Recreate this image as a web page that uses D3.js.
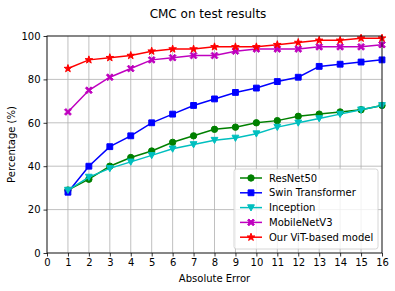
<!DOCTYPE html>
<html lang="en">
<head>
    <meta charset="UTF-8">
    <title>CMC on test results</title>
    <script src="https://d3js.org/d3.v7.min.js"></script>
    <style>
        body { margin: 0; background: #fff; }
        text { font-family: "DejaVu Sans", sans-serif; fill: #000; }
    </style>
</head>
<body>
    <div id="chart"></div>

    <script>
        // CMC values
        const errors = [1, 2, 3, 4, 5, 6, 7, 8, 9, 10, 11, 12, 13, 14, 15, 16];
        const resnet = [29, 34, 40, 44, 47, 51, 54, 57, 58, 60, 61, 63, 64, 65, 66, 68];
        const swin = [28, 40, 49, 54, 60, 64, 68, 71, 74, 76, 79, 81, 86, 87, 88, 89];
        const inception = [29, 35, 39, 42, 45, 48, 50, 52, 53, 55, 58, 60, 62, 64, 66, 68];
        const mobilenet = [65, 75, 81, 85, 89, 90, 91, 91, 93, 94, 94, 94, 95, 95, 95, 96];
        const vit = [85, 89, 90, 91, 93, 94, 94, 95, 95, 95, 96, 97, 98, 98, 99, 99];
        const xTicks = d3.range(0, 17);
        const yTicks = [0, 20, 40, 60, 80, 100];

        const series = [
            { name: 'ResNet50', values: resnet, color: '#008000', marker: 'circle' },
            { name: 'Swin Transformer', values: swin, color: '#0000ff', marker: 'square' },
            { name: 'Inception', values: inception, color: '#00bfbf', marker: 'tri' },
            { name: 'MobileNetV3', values: mobilenet, color: '#bf00bf', marker: 'x' },
            { name: 'Our ViT-based model', values: vit, color: '#ff0000', marker: 'star' }
        ];

        const svgWidth = 395, svgHeight = 291;
        const margin = { top: 36, right: 13, bottom: 38, left: 47 };
        const width = svgWidth - margin.left - margin.right;
        const height = svgHeight - margin.top - margin.bottom;

        const root = d3.select('#chart').append('svg')
            .attr('width', svgWidth)
            .attr('height', svgHeight);

        const svg = root.append('g')
            .attr('transform', `translate(${margin.left},${margin.top})`);

        const x = d3.scaleLinear().domain([0, 16]).range([0, width]);
        const y = d3.scaleLinear().domain([0, 100]).range([height, 0]);

        // grid
        svg.append('g').selectAll('line.gx').data(xTicks).enter().append('line')
            .attr('x1', d => x(d)).attr('x2', d => x(d))
            .attr('y1', 0).attr('y2', height)
            .attr('stroke', '#b0b0b0').attr('stroke-width', 0.8);
        svg.append('g').selectAll('line.gy').data(yTicks).enter().append('line')
            .attr('x1', 0).attr('x2', width)
            .attr('y1', d => y(d)).attr('y2', d => y(d))
            .attr('stroke', '#b0b0b0').attr('stroke-width', 0.8);

        // axes
        const xAxis = svg.append('g')
            .attr('transform', `translate(0,${height})`)
            .call(d3.axisBottom(x).tickValues(xTicks).tickSize(3.5).tickPadding(2));
        const yAxis = svg.append('g')
            .call(d3.axisLeft(y).tickValues(yTicks).tickSize(3.5).tickPadding(3));
        [xAxis, yAxis].forEach(a => {
            a.selectAll('text').style('font-size', '10px').style('font-family', '"DejaVu Sans", sans-serif');
            a.selectAll('line').attr('stroke', '#000').attr('stroke-width', 0.8);
            a.select('.domain').remove();
        });

        // markers
        function markerPath(type) {
            if (type === 'circle') return d3.symbol(d3.symbolCircle, 32)();
            if (type === 'square') return d3.symbol(d3.symbolSquare, 34)();
            if (type === 'tri') return 'M-3.4,-2.8 L3.4,-2.8 L0,3.4 Z';
            if (type === 'x') {
                // filled X like matplotlib 'X'
                const a = 3.4, t = 1.3;
                return `M${-a},${-a + t} L${-a + t},${-a} L0,${-t} L${a - t},${-a} L${a},${-a + t} L${t},0 ` +
                       `L${a},${a - t} L${a - t},${a} L0,${t} L${-a + t},${a} L${-a},${a - t} L${-t},0 Z`;
            }
            return d3.symbol(d3.symbolStar, 18)();
        }

        const line = d3.line().x(d => x(d[0])).y(d => y(d[1]));

        series.forEach(s => {
            const pts = errors.map((e, i) => [e, s.values[i]]);
            const g = svg.append('g');
            g.append('path')
                .attr('d', line(pts))
                .attr('fill', 'none')
                .attr('stroke', s.color)
                .attr('stroke-width', 1.5);
            g.selectAll('path.m').data(pts).enter().append('path')
                .attr('class', 'm')
                .attr('transform', d => `translate(${x(d[0])},${y(d[1])})`)
                .attr('d', markerPath(s.marker))
                .attr('fill', s.color)
                .attr('stroke', s.color)
                .attr('stroke-width', 1);
        });

        // frame
        svg.append('rect')
            .attr('width', width).attr('height', height)
            .attr('fill', 'none').attr('stroke', '#000').attr('stroke-width', 0.8);

        // legend
        const lg = svg.append('g').attr('transform', `translate(${width - 148},${height - 84})`);
        lg.append('rect')
            .attr('width', 144).attr('height', 80)
            .attr('rx', 2.5)
            .attr('fill', '#fff').attr('fill-opacity', 0.8)
            .attr('stroke', '#cccccc').attr('stroke-width', 0.8);
        series.forEach((s, i) => {
            const row = lg.append('g').attr('transform', `translate(6,${9 + i * 14.8})`);
            row.append('line')
                .attr('x1', 0).attr('x2', 22)
                .attr('stroke', s.color).attr('stroke-width', 1.5);
            row.append('path')
                .attr('transform', 'translate(11,0)')
                .attr('d', markerPath(s.marker))
                .attr('fill', s.color)
                .attr('stroke', s.color)
                .attr('stroke-width', 1);
            row.append('text')
                .attr('x', 29).attr('y', 0).attr('dy', '0.35em')
                .style('font-size', '10px')
                .text(s.name);
        });

        // labels
        root.append('text')
            .attr('x', 208).attr('y', 18)
            .attr('text-anchor', 'middle')
            .style('font-size', '12px')
            .text('CMC on test results');
        root.append('text')
            .attr('x', margin.left + width / 2).attr('y', 282)
            .attr('text-anchor', 'middle')
            .style('font-size', '10px')
            .text('Absolute Error');
        root.append('text')
            .attr('transform', `translate(15,${margin.top + height / 2}) rotate(-90)`)
            .attr('text-anchor', 'middle')
            .style('font-size', '10px')
            .text('Percentage (%)');
    </script>
</body>
</html>
